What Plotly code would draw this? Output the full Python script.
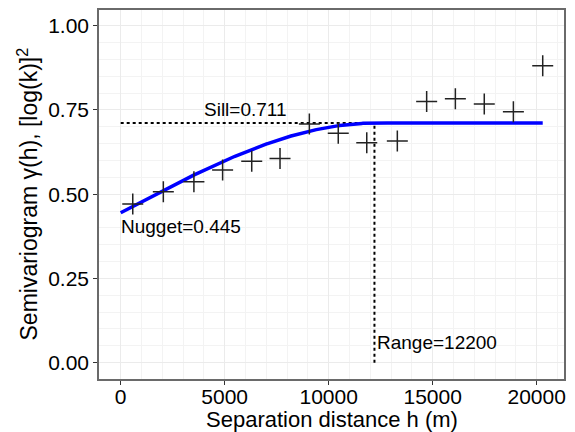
import numpy as np
import plotly.graph_objects as go

lag_h = [580, 2050, 3520, 4900, 6300, 7660, 9070, 10460, 11830, 13300, 14710, 16090, 17480, 18880, 20290]
gamma = [0.471, 0.507, 0.537, 0.572, 0.598, 0.606, 0.708, 0.681, 0.653, 0.658, 0.775, 0.783, 0.768, 0.745, 0.881]

# Spherical model parameters
nugget = 0.445
sill = 0.711
rng = 12200
h_max = 20290

x_ticks = [0, 5000, 10000, 15000, 20000]
x_tick_labels = ["0", "5000", "10000", "15000", "20000"]
y_ticks = [0.00, 0.25, 0.50, 0.75, 1.00]
y_tick_labels = ["0.00", "0.25", "0.50", "0.75", "1.00"]

x_title = "Separation distance h (m)"
y_title = "Semivariogram γ(h), [log(k)]<sup>2</sup>"

hm = np.linspace(0, h_max, 400)
r = np.minimum(hm / rng, 1.0)
gm = nugget + (sill - nugget) * (1.5 * r - 0.5 * r ** 3)

fig = go.Figure()
fig.add_trace(go.Scatter(x=[0, rng], y=[sill, sill], mode="lines",
                         line=dict(color="black", width=2, dash="dot"), hoverinfo="skip"))
fig.add_trace(go.Scatter(x=[rng, rng], y=[0, sill], mode="lines",
                         line=dict(color="black", width=2, dash="dot"), hoverinfo="skip"))
fig.add_trace(go.Scatter(x=hm, y=gm, mode="lines", line=dict(color="#0000FF", width=3.5)))
fig.add_trace(go.Scatter(x=lag_h, y=gamma, mode="markers",
                         marker=dict(symbol="cross-thin", size=15,
                                     line=dict(color="#222222", width=1.5))))

FONT = "Liberation Sans, Arial"
afont = dict(family=FONT, size=19, color="black")
tfont = dict(family=FONT, size=23, color="black")
fig.add_annotation(x=6000, y=sill, yshift=1, text=f"Sill={sill}", showarrow=False,
                   xanchor="center", yanchor="bottom", font=afont)
fig.add_annotation(x=0, xshift=-2, y=0.404, text=f"Nugget={nugget}", showarrow=False,
                   xanchor="left", yanchor="middle", font=afont)
fig.add_annotation(x=rng, xshift=1, y=0.06, text=f"Range={rng}", showarrow=False,
                   xanchor="left", yanchor="middle", font=afont)

# Axis titles as annotations for precise placement
fig.add_annotation(xref="paper", yref="paper", x=0.5, y=0, yshift=-40,
                   text=x_title, showarrow=False, xanchor="center", yanchor="middle",
                   font=dict(family=FONT, size=22, color="black"), borderpad=0)
fig.add_annotation(xref="paper", yref="paper", x=0, y=0.5, xshift=-72,
                   text=y_title, showarrow=False, textangle=-90,
                   xanchor="center", yanchor="middle", font=tfont)

axis_common = dict(showline=True, mirror=True, linecolor="#6a6a6a", linewidth=1.5,
                   ticks="outside", ticklen=4, tickcolor="#333333", tickwidth=1,
                   gridcolor="#EBEBEB", gridwidth=1.2, zeroline=False, automargin=False,
                   tickfont=dict(family=FONT, size=21, color="black"),
                   minor=dict(showgrid=True, gridcolor="#F3F3F3", gridwidth=0.8))

fig.update_xaxes(range=[-1043, 21313], tickvals=x_ticks, ticktext=x_tick_labels,
                 ticklabelstandoff=-6, **axis_common)
fig.update_yaxes(range=[-0.0484, 1.0466], tickvals=y_ticks, ticktext=y_tick_labels, **axis_common)
fig.update_layout(width=575, height=432, margin=dict(l=99, r=11, t=10, b=53),
                  plot_bgcolor="white", paper_bgcolor="white", showlegend=False)
fig.write_html("out.html")
